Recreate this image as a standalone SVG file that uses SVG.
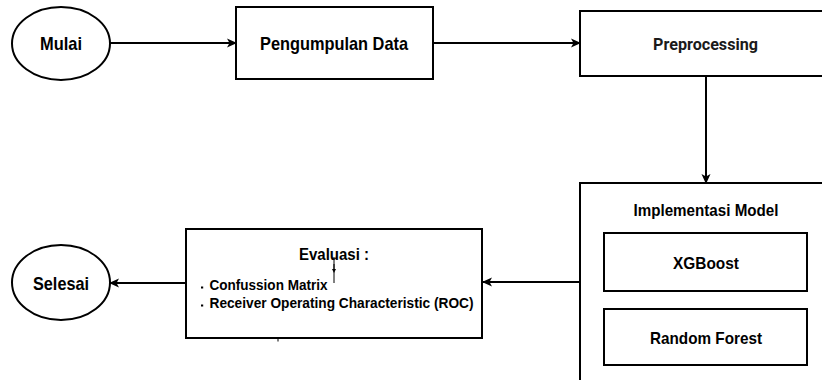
<svg xmlns="http://www.w3.org/2000/svg" width="822" height="380" viewBox="0 0 822 380">
  <style>
    .shape { fill: #ffffff; stroke: #000000; stroke-width: 2; }
    .lbl { font-family: "Liberation Sans", Arial, sans-serif; font-weight: bold; fill: #000000; text-anchor: middle; }
    .big { font-size: 19px; }
    .mid { font-size: 17px; }
    .small { font-size: 15px; text-anchor: start; }
    .din { font-family: Roboto, "Liberation Sans", sans-serif; font-weight: bold; font-size: 17px; fill: #1a1a1a; text-anchor: middle; }
    .edge { fill: none; stroke: #000000; stroke-width: 2; }
    .thin { fill: none; stroke: #000000; stroke-width: 1; }
  </style>
  <defs>
    <marker id="arrow" viewBox="0 0 10 10" refX="9" refY="5" markerWidth="10" markerHeight="10" markerUnits="userSpaceOnUse" orient="auto">
      <path d="M0,0.5 L10,5 L0,9.5 L2.5,5 Z" fill="#000000"/>
    </marker>
    <marker id="arrowSmall" viewBox="0 0 10 10" refX="5" refY="5" markerWidth="4" markerHeight="6" markerUnits="userSpaceOnUse" orient="auto">
      <path d="M0,0 L10,5 L0,10 Z" fill="#000000"/>
    </marker>
  </defs>
  <rect width="822" height="380" fill="#ffffff"/>

  <g id="connectors">
    <line class="edge" x1="110" y1="43" x2="236" y2="43" marker-end="url(#arrow)"/>
    <line class="edge" x1="433" y1="43" x2="580" y2="43" marker-end="url(#arrow)"/>
    <line class="edge" x1="706" y1="76" x2="706" y2="183" marker-end="url(#arrow)"/>
    <line class="edge" x1="580" y1="282" x2="483" y2="282" marker-end="url(#arrow)"/>
    <line class="edge" x1="186" y1="283" x2="110" y2="283" marker-end="url(#arrow)"/>
  </g>

  <g id="mulai">
    <ellipse class="shape" cx="61" cy="43.5" rx="49" ry="36.5"/>
    <text class="lbl big" x="61" y="50" textLength="42" lengthAdjust="spacingAndGlyphs">Mulai</text>
  </g>

  <g id="pengumpulan-data">
    <rect class="shape" x="236" y="7" width="197" height="72"/>
    <text class="lbl big" x="334" y="50" textLength="148" lengthAdjust="spacingAndGlyphs">Pengumpulan Data</text>
  </g>

  <g id="preprocessing">
    <rect class="shape" x="580" y="11" width="252" height="65"/>
    <text class="din" x="705.5" y="50" textLength="105" lengthAdjust="spacingAndGlyphs">Preprocessing</text>
  </g>

  <g id="implementasi-model">
    <rect class="shape" x="580" y="183" width="252" height="210"/>
    <text class="lbl mid" x="706" y="216" textLength="145" lengthAdjust="spacingAndGlyphs">Implementasi Model</text>
  </g>

  <g id="xgboost">
    <rect class="shape" x="604" y="233" width="203" height="58"/>
    <text class="lbl mid" x="706" y="268.5" textLength="66" lengthAdjust="spacingAndGlyphs">XGBoost</text>
  </g>

  <g id="random-forest">
    <rect class="shape" x="604" y="309" width="203" height="56"/>
    <text class="lbl mid" x="706" y="343.5" textLength="112" lengthAdjust="spacingAndGlyphs">Random Forest</text>
  </g>

  <g id="evaluasi">
    <rect class="shape" x="186" y="229" width="296" height="109"/>
    <text class="lbl mid" x="334" y="260" textLength="70" lengthAdjust="spacingAndGlyphs">Evaluasi :</text>
    <line class="thin" x1="334" y1="257" x2="334" y2="283"/>
    <line class="thin" x1="334" y1="264" x2="334" y2="271" marker-end="url(#arrowSmall)"/>
    <rect x="201" y="286.5" width="2.2" height="2" fill="#000000"/>
    <text class="lbl small" x="209.5" y="289.5" textLength="118" lengthAdjust="spacingAndGlyphs">Confussion Matrix</text>
    <rect x="201" y="304.5" width="2.2" height="2" fill="#000000"/>
    <text class="lbl small" x="209.5" y="307.5" textLength="264" lengthAdjust="spacingAndGlyphs">Receiver Operating Characteristic (ROC)</text>
    <line class="thin" x1="278" y1="338" x2="278" y2="341.5"/>
  </g>

  <g id="selesai">
    <ellipse class="shape" cx="61" cy="282.5" rx="49" ry="37.5"/>
    <text class="lbl big" x="61" y="290" textLength="56" lengthAdjust="spacingAndGlyphs">Selesai</text>
  </g>
</svg>
